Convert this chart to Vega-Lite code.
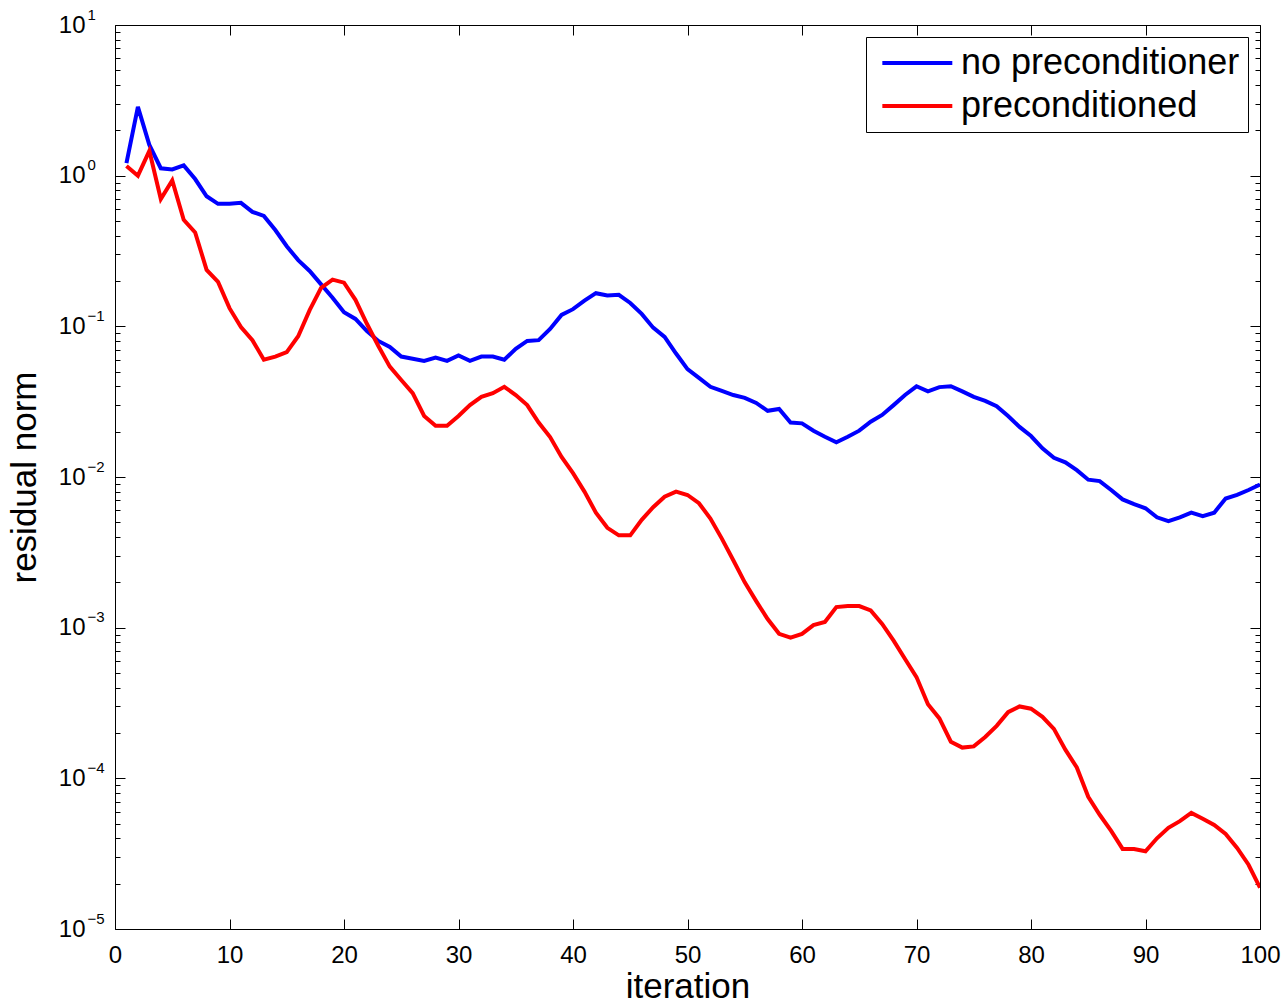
{
"$schema": "https://vega.github.io/schema/vega-lite/v6.json",
"width": 1145, "height": 904,
"autosize": {"type": "none"},
"padding": {"left": 115, "top": 25, "right": 26, "bottom": 75},
"background": "white",
"config": {
  "view": {"stroke": "black", "strokeWidth": 1},
  "font": "Liberation Sans",
  "axis": {"grid": false, "domain": false, "tickColor": "black", "labelColor": "black", "titleColor": "black", "titleFontWeight": "normal", "labelFont": "Liberation Sans", "titleFont": "Liberation Sans", "labelOverlap": false, "labelFlush": false},
  "legend": {"labelFont": "Liberation Sans"}
},
"data": {"values": [
{"iteration":1,"series":"no preconditioner","residual":1.21},
{"iteration":2,"series":"no preconditioner","residual":2.86},
{"iteration":3,"series":"no preconditioner","residual":1.6},
{"iteration":4,"series":"no preconditioner","residual":1.12},
{"iteration":5,"series":"no preconditioner","residual":1.1},
{"iteration":6,"series":"no preconditioner","residual":1.17},
{"iteration":7,"series":"no preconditioner","residual":0.95},
{"iteration":8,"series":"no preconditioner","residual":0.73},
{"iteration":9,"series":"no preconditioner","residual":0.65},
{"iteration":10,"series":"no preconditioner","residual":0.65},
{"iteration":11,"series":"no preconditioner","residual":0.66},
{"iteration":12,"series":"no preconditioner","residual":0.575},
{"iteration":13,"series":"no preconditioner","residual":0.54},
{"iteration":14,"series":"no preconditioner","residual":0.436},
{"iteration":15,"series":"no preconditioner","residual":0.34},
{"iteration":16,"series":"no preconditioner","residual":0.275},
{"iteration":17,"series":"no preconditioner","residual":0.233},
{"iteration":18,"series":"no preconditioner","residual":0.19},
{"iteration":19,"series":"no preconditioner","residual":0.155},
{"iteration":20,"series":"no preconditioner","residual":0.124},
{"iteration":21,"series":"no preconditioner","residual":0.112},
{"iteration":22,"series":"no preconditioner","residual":0.093},
{"iteration":23,"series":"no preconditioner","residual":0.08},
{"iteration":24,"series":"no preconditioner","residual":0.073},
{"iteration":25,"series":"no preconditioner","residual":0.063},
{"iteration":26,"series":"no preconditioner","residual":0.061},
{"iteration":27,"series":"no preconditioner","residual":0.059},
{"iteration":28,"series":"no preconditioner","residual":0.062},
{"iteration":29,"series":"no preconditioner","residual":0.059},
{"iteration":30,"series":"no preconditioner","residual":0.064},
{"iteration":31,"series":"no preconditioner","residual":0.059},
{"iteration":32,"series":"no preconditioner","residual":0.063},
{"iteration":33,"series":"no preconditioner","residual":0.063},
{"iteration":34,"series":"no preconditioner","residual":0.060},
{"iteration":35,"series":"no preconditioner","residual":0.071},
{"iteration":36,"series":"no preconditioner","residual":0.080},
{"iteration":37,"series":"no preconditioner","residual":0.081},
{"iteration":38,"series":"no preconditioner","residual":0.096},
{"iteration":39,"series":"no preconditioner","residual":0.119},
{"iteration":40,"series":"no preconditioner","residual":0.13},
{"iteration":41,"series":"no preconditioner","residual":0.148},
{"iteration":42,"series":"no preconditioner","residual":0.166},
{"iteration":43,"series":"no preconditioner","residual":0.16},
{"iteration":44,"series":"no preconditioner","residual":0.162},
{"iteration":45,"series":"no preconditioner","residual":0.143},
{"iteration":46,"series":"no preconditioner","residual":0.121},
{"iteration":47,"series":"no preconditioner","residual":0.098},
{"iteration":48,"series":"no preconditioner","residual":0.085},
{"iteration":49,"series":"no preconditioner","residual":0.066},
{"iteration":50,"series":"no preconditioner","residual":0.052},
{"iteration":51,"series":"no preconditioner","residual":0.0455},
{"iteration":52,"series":"no preconditioner","residual":0.0397},
{"iteration":53,"series":"no preconditioner","residual":0.0373},
{"iteration":54,"series":"no preconditioner","residual":0.035},
{"iteration":55,"series":"no preconditioner","residual":0.0335},
{"iteration":56,"series":"no preconditioner","residual":0.031},
{"iteration":57,"series":"no preconditioner","residual":0.0275},
{"iteration":58,"series":"no preconditioner","residual":0.0283},
{"iteration":59,"series":"no preconditioner","residual":0.023},
{"iteration":60,"series":"no preconditioner","residual":0.0227},
{"iteration":61,"series":"no preconditioner","residual":0.0203},
{"iteration":62,"series":"no preconditioner","residual":0.0185},
{"iteration":63,"series":"no preconditioner","residual":0.017},
{"iteration":64,"series":"no preconditioner","residual":0.0185},
{"iteration":65,"series":"no preconditioner","residual":0.0203},
{"iteration":66,"series":"no preconditioner","residual":0.0233},
{"iteration":67,"series":"no preconditioner","residual":0.0258},
{"iteration":68,"series":"no preconditioner","residual":0.030},
{"iteration":69,"series":"no preconditioner","residual":0.035},
{"iteration":70,"series":"no preconditioner","residual":0.040},
{"iteration":71,"series":"no preconditioner","residual":0.037},
{"iteration":72,"series":"no preconditioner","residual":0.0395},
{"iteration":73,"series":"no preconditioner","residual":0.040},
{"iteration":74,"series":"no preconditioner","residual":0.037},
{"iteration":75,"series":"no preconditioner","residual":0.034},
{"iteration":76,"series":"no preconditioner","residual":0.032},
{"iteration":77,"series":"no preconditioner","residual":0.0295},
{"iteration":78,"series":"no preconditioner","residual":0.0254},
{"iteration":79,"series":"no preconditioner","residual":0.0215},
{"iteration":80,"series":"no preconditioner","residual":0.0187},
{"iteration":81,"series":"no preconditioner","residual":0.0155},
{"iteration":82,"series":"no preconditioner","residual":0.0134},
{"iteration":83,"series":"no preconditioner","residual":0.0125},
{"iteration":84,"series":"no preconditioner","residual":0.0111},
{"iteration":85,"series":"no preconditioner","residual":0.0096},
{"iteration":86,"series":"no preconditioner","residual":0.0094},
{"iteration":87,"series":"no preconditioner","residual":0.0082},
{"iteration":88,"series":"no preconditioner","residual":0.0071},
{"iteration":89,"series":"no preconditioner","residual":0.0066},
{"iteration":90,"series":"no preconditioner","residual":0.0062},
{"iteration":91,"series":"no preconditioner","residual":0.0054},
{"iteration":92,"series":"no preconditioner","residual":0.0051},
{"iteration":93,"series":"no preconditioner","residual":0.0054},
{"iteration":94,"series":"no preconditioner","residual":0.0058},
{"iteration":95,"series":"no preconditioner","residual":0.0055},
{"iteration":96,"series":"no preconditioner","residual":0.0058},
{"iteration":97,"series":"no preconditioner","residual":0.0072},
{"iteration":98,"series":"no preconditioner","residual":0.0076},
{"iteration":99,"series":"no preconditioner","residual":0.0082},
{"iteration":100,"series":"no preconditioner","residual":0.0089},
{"iteration":1,"series":"preconditioned","residual":1.16},
{"iteration":2,"series":"preconditioned","residual":1.0},
{"iteration":3,"series":"preconditioned","residual":1.46},
{"iteration":4,"series":"preconditioned","residual":0.70},
{"iteration":5,"series":"preconditioned","residual":0.93},
{"iteration":6,"series":"preconditioned","residual":0.51},
{"iteration":7,"series":"preconditioned","residual":0.42},
{"iteration":8,"series":"preconditioned","residual":0.237},
{"iteration":9,"series":"preconditioned","residual":0.197},
{"iteration":10,"series":"preconditioned","residual":0.132},
{"iteration":11,"series":"preconditioned","residual":0.099},
{"iteration":12,"series":"preconditioned","residual":0.081},
{"iteration":13,"series":"preconditioned","residual":0.060},
{"iteration":14,"series":"preconditioned","residual":0.063},
{"iteration":15,"series":"preconditioned","residual":0.0675},
{"iteration":16,"series":"preconditioned","residual":0.086},
{"iteration":17,"series":"preconditioned","residual":0.128},
{"iteration":18,"series":"preconditioned","residual":0.18},
{"iteration":19,"series":"preconditioned","residual":0.204},
{"iteration":20,"series":"preconditioned","residual":0.195},
{"iteration":21,"series":"preconditioned","residual":0.15},
{"iteration":22,"series":"preconditioned","residual":0.104},
{"iteration":23,"series":"preconditioned","residual":0.074},
{"iteration":24,"series":"preconditioned","residual":0.054},
{"iteration":25,"series":"preconditioned","residual":0.044},
{"iteration":26,"series":"preconditioned","residual":0.036},
{"iteration":27,"series":"preconditioned","residual":0.0254},
{"iteration":28,"series":"preconditioned","residual":0.0219},
{"iteration":29,"series":"preconditioned","residual":0.0219},
{"iteration":30,"series":"preconditioned","residual":0.0254},
{"iteration":31,"series":"preconditioned","residual":0.030},
{"iteration":32,"series":"preconditioned","residual":0.034},
{"iteration":33,"series":"preconditioned","residual":0.036},
{"iteration":34,"series":"preconditioned","residual":0.0397},
{"iteration":35,"series":"preconditioned","residual":0.035},
{"iteration":36,"series":"preconditioned","residual":0.030},
{"iteration":37,"series":"preconditioned","residual":0.023},
{"iteration":38,"series":"preconditioned","residual":0.0184},
{"iteration":39,"series":"preconditioned","residual":0.0136},
{"iteration":40,"series":"preconditioned","residual":0.0106},
{"iteration":41,"series":"preconditioned","residual":0.0080},
{"iteration":42,"series":"preconditioned","residual":0.0058},
{"iteration":43,"series":"preconditioned","residual":0.0046},
{"iteration":44,"series":"preconditioned","residual":0.0041},
{"iteration":45,"series":"preconditioned","residual":0.0041},
{"iteration":46,"series":"preconditioned","residual":0.0052},
{"iteration":47,"series":"preconditioned","residual":0.0063},
{"iteration":48,"series":"preconditioned","residual":0.0074},
{"iteration":49,"series":"preconditioned","residual":0.0080},
{"iteration":50,"series":"preconditioned","residual":0.0076},
{"iteration":51,"series":"preconditioned","residual":0.0067},
{"iteration":52,"series":"preconditioned","residual":0.0053},
{"iteration":53,"series":"preconditioned","residual":0.0039},
{"iteration":54,"series":"preconditioned","residual":0.0028},
{"iteration":55,"series":"preconditioned","residual":0.0020},
{"iteration":56,"series":"preconditioned","residual":0.0015},
{"iteration":57,"series":"preconditioned","residual":0.00114},
{"iteration":58,"series":"preconditioned","residual":0.00091},
{"iteration":59,"series":"preconditioned","residual":0.00086},
{"iteration":60,"series":"preconditioned","residual":0.00091},
{"iteration":61,"series":"preconditioned","residual":0.00104},
{"iteration":62,"series":"preconditioned","residual":0.00109},
{"iteration":63,"series":"preconditioned","residual":0.00137},
{"iteration":64,"series":"preconditioned","residual":0.00139},
{"iteration":65,"series":"preconditioned","residual":0.00139},
{"iteration":66,"series":"preconditioned","residual":0.0013},
{"iteration":67,"series":"preconditioned","residual":0.00106},
{"iteration":68,"series":"preconditioned","residual":0.00082},
{"iteration":69,"series":"preconditioned","residual":0.00062},
{"iteration":70,"series":"preconditioned","residual":0.00047},
{"iteration":71,"series":"preconditioned","residual":0.00031},
{"iteration":72,"series":"preconditioned","residual":0.00025},
{"iteration":73,"series":"preconditioned","residual":0.000175},
{"iteration":74,"series":"preconditioned","residual":0.000160},
{"iteration":75,"series":"preconditioned","residual":0.000163},
{"iteration":76,"series":"preconditioned","residual":0.000188},
{"iteration":77,"series":"preconditioned","residual":0.000223},
{"iteration":78,"series":"preconditioned","residual":0.000275},
{"iteration":79,"series":"preconditioned","residual":0.00030},
{"iteration":80,"series":"preconditioned","residual":0.00029},
{"iteration":81,"series":"preconditioned","residual":0.000256},
{"iteration":82,"series":"preconditioned","residual":0.000213},
{"iteration":83,"series":"preconditioned","residual":0.000155},
{"iteration":84,"series":"preconditioned","residual":0.000118},
{"iteration":85,"series":"preconditioned","residual":0.0000754},
{"iteration":86,"series":"preconditioned","residual":0.0000573},
{"iteration":87,"series":"preconditioned","residual":0.0000448},
{"iteration":88,"series":"preconditioned","residual":0.000034},
{"iteration":89,"series":"preconditioned","residual":0.000034},
{"iteration":90,"series":"preconditioned","residual":0.0000328},
{"iteration":91,"series":"preconditioned","residual":0.000040},
{"iteration":92,"series":"preconditioned","residual":0.0000469},
{"iteration":93,"series":"preconditioned","residual":0.000052},
{"iteration":94,"series":"preconditioned","residual":0.000059},
{"iteration":95,"series":"preconditioned","residual":0.000054},
{"iteration":96,"series":"preconditioned","residual":0.000049},
{"iteration":97,"series":"preconditioned","residual":0.0000427},
{"iteration":98,"series":"preconditioned","residual":0.0000345},
{"iteration":99,"series":"preconditioned","residual":0.0000267},
{"iteration":100,"series":"preconditioned","residual":0.0000188}
]},
"layer": [
  {
    "mark": {"type": "line", "strokeWidth": 4, "clip": true},
    "encoding": {
      "x": {"field": "iteration", "type": "quantitative",
        "scale": {"domain": [0, 100], "nice": false},
        "axis": {"orient": "bottom", "values": [0,10,20,30,40,50,60,70,80,90,100], "tickSize": -10, "labelPadding": 24, "labelFontSize": 24, "title": "iteration", "titleFontSize": 35, "titlePadding": 2}},
      "y": {"field": "residual", "type": "quantitative",
        "scale": {"type": "log", "domain": [0.00001, 10], "nice": false},
        "axis": {"orient": "left", "title": "residual norm", "titleFontSize": 35, "titlePadding": 16,
          "values": [0.00001,0.00002,0.00003,0.00004,0.00005,0.00006,0.00007,0.00008,0.00009,0.0001,0.0002,0.0003,0.0004,0.0005,0.0006,0.0007,0.0008,0.0009,0.001,0.002,0.003,0.004,0.005,0.006,0.007,0.008,0.009,0.01,0.02,0.03,0.04,0.05,0.06,0.07,0.08,0.09,0.1,0.2,0.3,0.4,0.5,0.6,0.7,0.8,0.9,1,2,3,4,5,6,7,8,9,10],
          "labelExpr": "abs(log(datum.value)/LN10 - round(log(datum.value)/LN10)) < 0.001 ? '10' : ''",
          "tickSize": {"condition": {"test": "abs(log(datum.value)/LN10 - round(log(datum.value)/LN10)) < 0.001", "value": -10}, "value": -5},
          "labelPadding": 40, "labelFontSize": 24}},
      "color": {"field": "series", "type": "nominal",
        "scale": {"domain": ["no preconditioner", "preconditioned"], "range": ["#0000ff", "#ff0000"]},
        "legend": {"title": null, "orient": "top-right", "offset": 12, "strokeColor": "black", "fillColor": "white", "padding": 8, "symbolType": "M-1,0H5", "symbolSize": 544, "symbolStrokeWidth": 4, "symbolOffset": 2, "labelFontSize": 36, "labelOffset": 49, "labelLimit": 0, "rowPadding": 7, "labelColor": "black"}}
    }
  },
  {
    "mark": {"type": "line", "opacity": 0},
    "encoding": {
      "x": {"field": "iteration", "type": "quantitative",
        "axis": {"orient": "top", "values": [0,10,20,30,40,50,60,70,80,90,100], "tickSize": -10, "labels": false, "title": null}},
      "y": {"field": "residual", "type": "quantitative",
        "axis": {"orient": "right", "title": null, "labels": false,
          "values": [0.00001,0.00002,0.00003,0.00004,0.00005,0.00006,0.00007,0.00008,0.00009,0.0001,0.0002,0.0003,0.0004,0.0005,0.0006,0.0007,0.0008,0.0009,0.001,0.002,0.003,0.004,0.005,0.006,0.007,0.008,0.009,0.01,0.02,0.03,0.04,0.05,0.06,0.07,0.08,0.09,0.1,0.2,0.3,0.4,0.5,0.6,0.7,0.8,0.9,1,2,3,4,5,6,7,8,9,10],
          "tickSize": {"condition": {"test": "abs(log(datum.value)/LN10 - round(log(datum.value)/LN10)) < 0.001", "value": -10}, "value": -5}}},
      "detail": {"field": "series", "type": "nominal"}
    }
  },
  {
    "mark": {"type": "line", "opacity": 0},
    "encoding": {
      "x": {"field": "iteration", "type": "quantitative", "axis": null},
      "y": {"field": "residual", "type": "quantitative",
        "axis": {"orient": "left", "title": null, "ticks": false,
          "values": [0.00001,0.0001,0.001,0.01,0.1,1,10],
          "labelExpr": "round(log(datum.value)/LN10) < 0 ? '−' + abs(round(log(datum.value)/LN10)) : '' + round(log(datum.value)/LN10)",
          "labelAlign": "left", "labelFontSize": 15, "labelOffset": -11, "labelPadding": 28}},
      "detail": {"field": "series", "type": "nominal"}
    }
  }
],
"resolve": {"axis": {"x": "independent", "y": "independent"}}
}
